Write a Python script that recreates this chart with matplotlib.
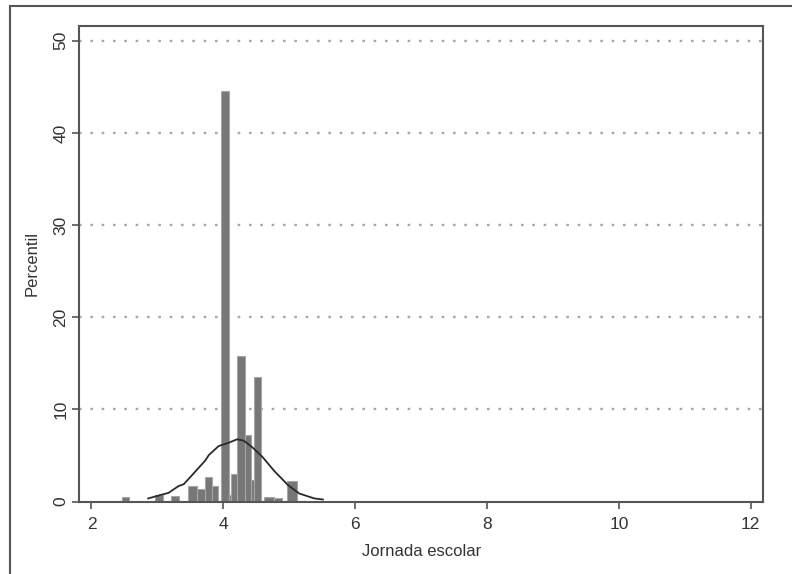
import matplotlib
matplotlib.use("Agg")
from matplotlib import pyplot as plt
from matplotlib.lines import Line2D

plt.rcParams['font.family'] = ['Liberation Sans', 'DejaVu Sans']

# histogram bins (hours) and percent heights
bin_left = [2.46, 2.97, 3.21, 3.47, 3.60, 3.72, 3.83, 3.97, 4.08, 4.12, 4.21, 4.33,
            4.42, 4.47, 4.62, 4.77, 4.96]
bin_right = [2.57, 3.08, 3.32, 3.60, 3.72, 3.83, 3.92, 4.08, 4.12, 4.21, 4.33, 4.42,
             4.47, 4.57, 4.77, 4.89, 5.11]
percent = [0.5, 0.7, 0.6, 1.7, 1.35, 2.7, 1.7, 44.5, 0.7, 3.0, 15.8, 7.25,
           2.35, 13.5, 0.55, 0.35, 2.2]

# density curve
curve_x = [2.86, 3.04, 3.17, 3.32, 3.40, 3.55, 3.73, 3.78, 3.93, 4.06, 4.21, 4.31,
           4.44, 4.60, 4.77, 4.98, 5.15, 5.38, 5.51]
curve_y = [0.35, 0.71, 0.96, 1.69, 1.9, 3.07, 4.5, 5.06, 6.04, 6.33, 6.77, 6.62,
           5.9, 4.8, 3.35, 1.8, 0.89, 0.35, 0.24]

yticks = [0, 10, 20, 30, 40, 50]
xticks = [2, 4, 6, 8, 10, 12]

SPINE = "#555555"
TEXT = "#333333"

fig = plt.figure(figsize=(7.92, 5.74), dpi=100)
fig.patch.set_facecolor("white")
ax = fig.add_axes([0.1001, 0.1260, 0.8637, 0.8287])

# outer frame (only left and top visible)
fig.add_artist(Line2D([0.0126, 0.0126], [0.0, 0.990], transform=fig.transFigure,
                      color=SPINE, lw=1.5))
fig.add_artist(Line2D([0.0126, 1.0], [0.990, 0.990], transform=fig.transFigure,
                      color=SPINE, lw=1.5))

for g in yticks[1:]:
    ax.axhline(g, color="#a8a8a8", lw=1.7, dashes=(1.1, 3.7), zorder=0)

widths = [r - l for l, r in zip(bin_left, bin_right)]
ax.bar(bin_left, percent, width=widths, align='edge', color="#777777",
       edgecolor="#a6a6a6", linewidth=0.8, zorder=2)
ax.plot(curve_x, curve_y, color="#2a2a2a", lw=1.3, zorder=3)

ax.set_xlim(1.815, 12.19)
ax.set_ylim(0, 51.6)
ax.set_xticks(xticks)
ax.set_yticks(yticks)
ax.set_yticklabels([str(t) for t in yticks], rotation=90, va='center')
ax.tick_params(axis='both', direction='out', length=5, width=1.2, colors=SPINE,
               labelcolor=TEXT, labelsize=12.5)
ax.tick_params(axis='x', pad=6)
ax.tick_params(axis='y', pad=3)
for s in ax.spines.values():
    s.set_color(SPINE)
    s.set_linewidth(1.5)

ax.set_xlabel('Jornada escolar', fontsize=12, color=TEXT, labelpad=9)
ax.set_ylabel('Percentil', fontsize=12, color=TEXT, labelpad=10)

fig.savefig("out.png", dpi=100)
